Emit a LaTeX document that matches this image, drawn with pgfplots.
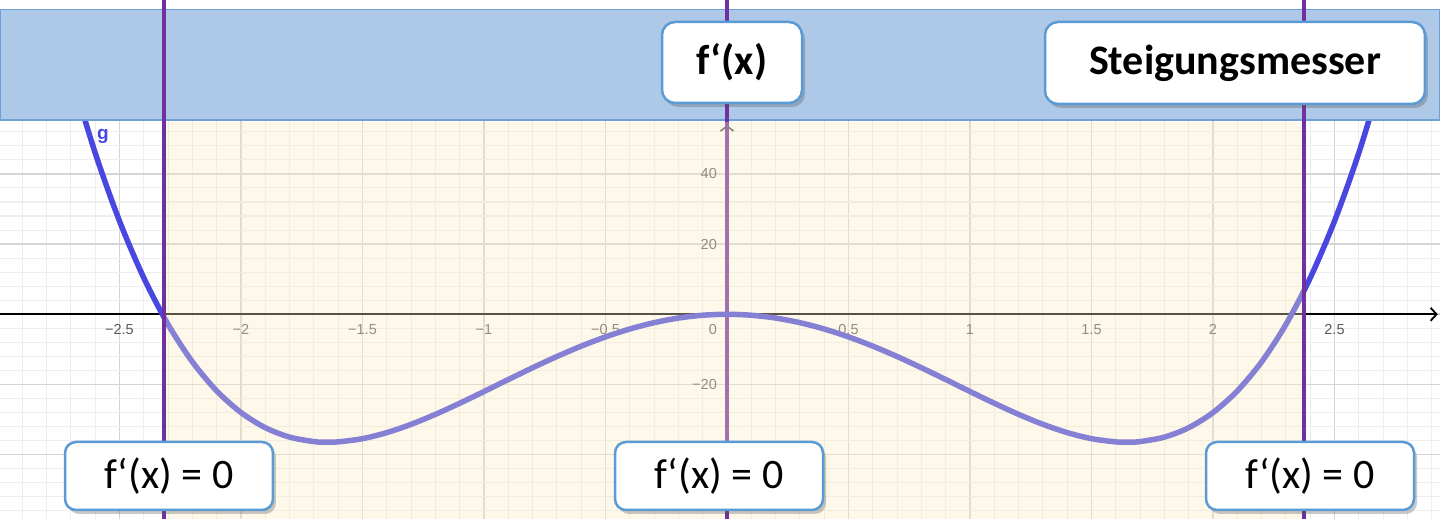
\documentclass[border=0pt]{standalone}
\usepackage{pgfplots}
\pgfplotsset{compat=1.18}
\usepackage{fontspec}
\setmainfont{Carlito}
\newfontfamily\tickfont{Liberation Sans}
\usetikzlibrary{arrows.meta,shadows}
\definecolor{curveblue}{RGB}{72,72,224}
\definecolor{purpleD}{RGB}{112,48,160}
\definecolor{overlayY}{RGB}{250,235,192}
\definecolor{bannerfill}{RGB}{174,201,231}
\definecolor{bannerline}{RGB}{110,160,215}
\definecolor{boxblue}{RGB}{91,155,213}
\definecolor{gridmajor}{RGB}{212,212,212}
\definecolor{gridminor}{RGB}{238,238,238}
\definecolor{tickgray}{RGB}{90,90,90}
\tikzset{
  infobox/.style={draw=boxblue, line width=2.5pt, fill=white, rounded corners=13pt,
    inner sep=0pt, text=black,
    drop shadow={shadow xshift=3pt, shadow yshift=-4pt, opacity=0.3, fill=black!70}},
  ticklab/.style={font=\tickfont\fontsize{14.5}{17}\selectfont, text=tickgray, inner sep=0pt}
}
\begin{document}
\begin{tikzpicture}
\begin{axis}[
  at={(0,0)}, anchor=north west,
  width=1440pt, height=519pt, scale only axis,
  xmin=-2.99177, xmax=2.93416, ymin=-58.319, ymax=89.544,
  axis line style={draw=none},
  major tick style={draw=none}, minor tick style={draw=none},
  xtick={-3,-2.5,...,3}, ytick={-60,-40,...,80},
  minor x tick num=4, minor y tick num=4,
  xticklabels={}, yticklabels={},
  grid=both,
  major grid style={draw=gridmajor, line width=1.6pt},
  minor grid style={draw=gridminor, line width=1.1pt},
  clip=true,
]
% tick labels
\node[ticklab] at (axis cs:-2.5,-4.4) {−2.5};
\node[ticklab] at (axis cs:-2,-4.4) {−2};
\node[ticklab] at (axis cs:-1.5,-4.4) {−1.5};
\node[ticklab] at (axis cs:-1,-4.4) {−1};
\node[ticklab] at (axis cs:-0.5,-4.4) {−0.5};
\node[ticklab] at (axis cs:-0.0576,-4.4) {0};
\node[ticklab] at (axis cs:0.5,-4.4) {0.5};
\node[ticklab] at (axis cs:1,-4.4) {1};
\node[ticklab] at (axis cs:1.5,-4.4) {1.5};
\node[ticklab] at (axis cs:2,-4.4) {2};
\node[ticklab] at (axis cs:2.5,-4.4) {2.5};
\node[ticklab, anchor=east] at (axis cs:-0.041,40) {40};
\node[ticklab, anchor=east] at (axis cs:-0.041,20) {20};
\node[ticklab, anchor=east] at (axis cs:-0.041,-20) {−20};
% axes
\draw[black, line width=1.8pt, -{Straight Barb[length=6pt,width=13pt,line width=1.8pt]}]
  (axis cs:-2.992,0) -- (axis cs:2.925,0);
\draw[black!75, line width=1.5pt, -{Straight Barb[length=5pt,width=13pt,line width=1.5pt]}]
  (axis cs:0,-58.4) -- (axis cs:0,53.9);
% centre line (below overlay)
\addplot[purpleD, line width=4pt] coordinates {(0,-58.4) (0,55.4)};
% curve g
\addplot[curveblue, line width=5.5pt, smooth, line join=round] coordinates {
(-2.8,95.648) (-2.75,81.77) (-2.7,68.891) (-2.6,45.968) (-2.5,26.563) (-2.4,10.368)
(-2.3,-2.910) (-2.2,-13.552) (-2.1,-21.830) (-2.0,-28.0) (-1.9,-32.310) (-1.8,-34.992)
(-1.7,-36.270) (-1.65,-36.447) (-1.6,-36.352) (-1.5,-35.438) (-1.4,-33.712) (-1.3,-31.350)
(-1.2,-28.512) (-1.1,-25.350) (-1.0,-22.0) (-0.9,-18.590) (-0.8,-15.232) (-0.7,-12.030)
(-0.6,-9.072) (-0.5,-6.438) (-0.4,-4.192) (-0.3,-2.390) (-0.2,-1.072) (-0.1,-0.270)
(0,0)
(0.1,-0.270) (0.2,-1.072) (0.3,-2.390) (0.4,-4.192) (0.5,-6.438) (0.6,-9.072)
(0.7,-12.030) (0.8,-15.232) (0.9,-18.590) (1.0,-22.0) (1.1,-25.350) (1.2,-28.512)
(1.3,-31.350) (1.4,-33.712) (1.5,-35.438) (1.6,-36.352) (1.65,-36.447) (1.7,-36.270)
(1.8,-34.992) (1.9,-32.310) (2.0,-28.0) (2.1,-21.830) (2.2,-13.552) (2.3,-2.910)
(2.4,10.368) (2.5,26.563) (2.6,45.968) (2.7,68.891) (2.75,81.77) (2.8,95.648)
};
\node[font=\tickfont\bfseries\fontsize{19}{22}\selectfont, text=curveblue] at (axis cs:-2.568,50.8) {g};
% yellow overlay
\addplot[draw=none, fill=overlayY, fill opacity=0.35] coordinates
  {(-2.317,-58.4) (2.374,-58.4) (2.374,54.786) (-2.317,54.786)} -- cycle;
% white strip and banner
\fill[white] (axis cs:-3,86.838) rectangle (axis cs:3,90);
\filldraw[fill=bannerfill, draw=bannerline, line width=1.3pt]
  (axis cs:-2.9915,55.356) rectangle (axis cs:2.934,86.838);
% purple lines
\addplot[purpleD, line width=4pt] coordinates {(-2.317,-58.4) (-2.317,90)};
\addplot[purpleD, line width=4pt] coordinates {(2.374,-58.4) (2.374,90)};
\addplot[purpleD, line width=4pt] coordinates {(0,55.2) (0,90)};
\addplot[purpleD, line width=4pt] coordinates {(0,-58.4) (0,-55.5)};
% boxes
\node[infobox, minimum width=140pt, minimum height=81pt, font=\bfseries\fontsize{42}{50}\selectfont]
  at (axis cs:0.0206,71.74) {f‘(x)};
\node[infobox, minimum width=380pt, minimum height=82pt, font=\bfseries\fontsize{42}{50}\selectfont]
  at (axis cs:2.0905,71.6) {Steigungsmesser};
\node[infobox, minimum width=208pt, minimum height=68pt, rounded corners=11pt, font=\fontsize{42}{50}\selectfont]
  at (axis cs:-2.2963,-46.07) {f‘(x) = 0};
\node[infobox, minimum width=208pt, minimum height=68pt, rounded corners=11pt, font=\fontsize{42}{50}\selectfont]
  at (axis cs:-0.0329,-46.07) {f‘(x) = 0};
\node[infobox, minimum width=208pt, minimum height=68pt, rounded corners=11pt, font=\fontsize{42}{50}\selectfont]
  at (axis cs:2.3992,-46.07) {f‘(x) = 0};
\end{axis}
\pgfresetboundingbox
\path (current axis.south west) rectangle (current axis.north east);
\end{tikzpicture}
\end{document}
